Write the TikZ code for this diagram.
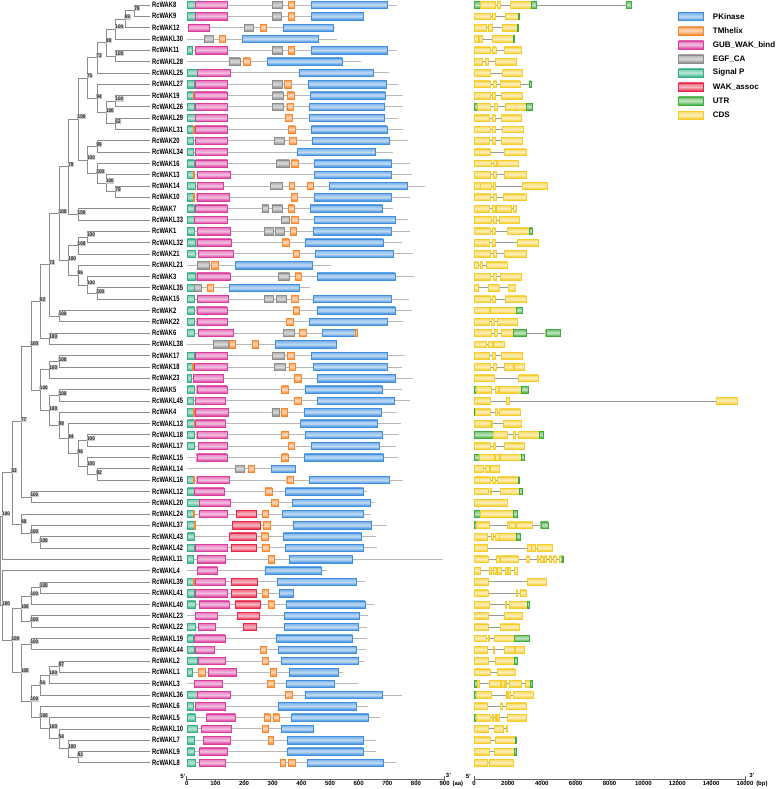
\documentclass[tikz,border=0pt]{standalone}
\usepackage{fontspec}
\setmainfont{Liberation Sans}
\newfontfamily\genefont[FakeStretch=0.74]{Liberation Sans}
\newfontfamily\bootfont[FakeStretch=0.85]{Liberation Sans}
\usetikzlibrary{calc, positioning}

\definecolor{pk}{RGB}{62,142,222}
\definecolor{tm}{RGB}{245,135,45}
\definecolor{gub}{RGB}{218,60,158}
\definecolor{egf}{RGB}{140,140,140}
\definecolor{sp}{RGB}{50,176,132}
\definecolor{wak}{RGB}{232,38,72}
\definecolor{utr}{RGB}{62,172,58}
\definecolor{cds}{RGB}{246,204,40}
\def\cdsflag{c}

% clade: name, depth, upper child, lower child, bootstrap
\newcommand{\clade}[5]{%
  \path let \p1=($(#3)!.5!(#4)$) in coordinate (#1) at ({(2.5+9.44*(#2-1))*1pt},\y1);
  \draw[branch] (#3) -- (#1 |- #3) -- (#1 |- #4) -- (#4);
  \node[boot, anchor=west] (#1t) at ([shift={(-1pt,2pt)}]#1) {#5};
}

\begin{document}
\begin{tikzpicture}[
    x=1pt, y=-1pt,
    branch/.style={draw=black!45, line width=0.6pt},
    boot/.style={fill=black!20, inner sep=0.5pt, text=black!85, font=\bootfont\bfseries\fontsize{5.4}{5.4}\selectfont},
    gene/.style={inner sep=0pt, font=\genefont\bfseries\fontsize{7.8}{7.8}\selectfont},
    backbone/.style={draw=black!28, line width=0.8pt},
    intron/.style={draw=black!40, line width=0.7pt},
    dom/.style={draw=#1, line width=0.45pt, top color=#1!70!white, bottom color=#1, middle color=#1!32!white},
    axisline/.style={draw=black!60, line width=0.6pt},
    ticklbl/.style={inner sep=0pt, font=\bfseries\fontsize{6}{6}\selectfont},
    legbox/.style={minimum width=25pt, minimum height=8pt, inner sep=0pt},
    legtext/.style={inner sep=0pt, font=\bfseries\fontsize{8}{8}\selectfont}
]
\useasboundingbox (0,0) rectangle (777,789);

% leaves and gene names
\foreach \r/\gname in {1/RcWAK8, 2/RcWAK9, 3/RcWAK12, 4/RcWAKL30, 5/RcWAK11, 6/RcWAKL28, 7/RcWAKL25,
    8/RcWAKL27, 9/RcWAK19, 10/RcWAKL26, 11/RcWAKL29, 12/RcWAKL31, 13/RcWAK20, 14/RcWAKL34,
    15/RcWAK16, 16/RcWAK13, 17/RcWAK14, 18/RcWAK10, 19/RcWAK7, 20/RcWAKL33, 21/RcWAK1,
    22/RcWAKL32, 23/RcWAK21, 24/RcWAKL21, 25/RcWAK3, 26/RcWAKL35, 27/RcWAK15, 28/RcWAK2,
    29/RcWAK22, 30/RcWAK6, 31/RcWAKL38, 32/RcWAK17, 33/RcWAK18, 34/RcWAK23, 35/RcWAK5,
    36/RcWAKL45, 37/RcWAK4, 38/RcWAKL13, 39/RcWAKL18, 40/RcWAKL17, 41/RcWAKL15, 42/RcWAKL14,
    43/RcWAKL16, 44/RcWAKL12, 45/RcWAKL20, 46/RcWAKL24, 47/RcWAKL37, 48/RcWAKL43, 49/RcWAKL42,
    50/RcWAKL11, 51/RcWAKL4, 52/RcWAKL39, 53/RcWAKL41, 54/RcWAKL40, 55/RcWAKL23, 56/RcWAKL22,
    57/RcWAKL19, 58/RcWAKL44, 59/RcWAKL2, 60/RcWAKL1, 61/RcWAKL3, 62/RcWAKL36, 63/RcWAKL6,
    64/RcWAKL5, 65/RcWAKL10, 66/RcWAKL7, 67/RcWAKL9, 68/RcWAKL8} {
  \pgfmathsetmacro{\yr}{5+(\r-1)*11.31}
  \coordinate (l\r) at (150,\yr);
  \node[gene, anchor=west] (g\r) at (152,\yr) {\gname};
}

% tree
\clade{n1}{15}{l1}{l2}{79}
\clade{n2}{14}{n1}{l3}{69}
\clade{n3}{13}{n2}{l4}{100}
\clade{n4}{13}{l5}{l6}{100}
\clade{n5}{12}{n3}{n4}{89}
\clade{n6}{11}{n5}{l7}{73}
\clade{n7}{13}{l9}{l10}{100}
\clade{n8}{13}{l11}{l12}{62}
\clade{n9}{12}{n7}{n8}{100}
\clade{n10}{11}{l8}{n9}{94}
\clade{n11}{10}{n6}{n10}{75}
\clade{n12}{11}{l13}{l14}{99}
\clade{n13}{13}{l17}{l18}{79}
\clade{n14}{12}{l16}{n13}{100}
\clade{n15}{11}{l15}{n14}{100}
\clade{n16}{10}{n12}{n15}{100}
\clade{n17}{9}{n11}{n16}{100}
\clade{n18}{9}{l19}{l20}{100}
\clade{n19}{8}{n17}{n18}{79}
\clade{n20}{10}{l21}{l22}{100}
\clade{n21}{9}{n20}{l23}{100}
\clade{n22}{11}{l26}{l27}{100}
\clade{n23}{10}{l25}{n22}{100}
\clade{n24}{9}{l24}{n23}{96}
\clade{n25}{8}{n21}{n24}{100}
\clade{n26}{7}{n19}{n25}{100}
\clade{n27}{7}{l28}{l29}{100}
\clade{n28}{6}{n26}{n27}{73}
\clade{n29}{6}{l30}{l31}{100}
\clade{n30}{5}{n28}{n29}{92}
\clade{n31}{7}{l32}{l33}{100}
\clade{n32}{6}{n31}{l34}{100}
\clade{n33}{7}{l35}{l36}{100}
\clade{n34}{10}{l39}{l40}{100}
\clade{n35}{11}{l42}{l43}{92}
\clade{n36}{10}{l41}{n35}{100}
\clade{n37}{9}{n34}{n36}{96}
\clade{n38}{8}{l38}{n37}{84}
\clade{n39}{7}{l37}{n38}{99}
\clade{n40}{6}{n33}{n39}{100}
\clade{n41}{5}{n32}{n40}{100}
\clade{n42}{4}{n30}{n41}{100}
\clade{n43}{4}{l44}{l45}{100}
\clade{n44}{3}{n42}{n43}{77}
\clade{n45}{5}{l48}{l49}{100}
\clade{n46}{4}{l47}{n45}{100}
\clade{n47}{3}{l46}{n46}{98}
\clade{n48}{2}{n44}{n47}{53}
\clade{n49}{1}{n48}{l50}{100}
\clade{n50}{5}{l52}{l53}{100}
\clade{n51}{4}{n50}{l54}{100}
\clade{n52}{4}{l55}{l56}{100}
\clade{n53}{3}{n51}{n52}{100}
\clade{n54}{4}{l57}{l58}{100}
\clade{n55}{7}{l59}{l60}{97}
\clade{n56}{6}{n55}{l61}{100}
\clade{n57}{5}{n56}{l62}{56}
\clade{n58}{9}{l67}{l68}{93}
\clade{n59}{8}{l66}{n58}{100}
\clade{n60}{7}{l65}{n59}{54}
\clade{n61}{6}{l64}{n60}{100}
\clade{n62}{5}{l63}{n61}{100}
\clade{n63}{4}{n57}{n62}{100}
\clade{n64}{3}{n54}{n63}{100}
\clade{n65}{2}{n53}{n64}{100}
\clade{n66}{1}{l51}{n65}{100}
\path let \p1=($(n49)!.5!(n66)$) in coordinate (root) at (0.8pt,\y1);
\draw[branch] (n49) -- (root |- n49) -- (root |- n66) -- (n66);

% protein domains (aa)
\begin{scope}[shift={(186.7,0)}, x=0.2866pt]
\foreach \r/\len/\doms in {
    1/733/{sp/2/29, gub/31/143, egf/300/335, tm/355/376, pk/436/698},
    2/620/{sp/2/29, gub/31/143, egf/300/331, tm/355/376, pk/436/616},
    3/517/{gub/6/79, egf/201/233, tm/256/279, pk/337/512},
    4/523/{egf/60/93, tm/114/136, pk/195/459},
    5/733/{sp/2/19, gub/31/140, egf/298/335, tm/355/376, pk/436/698},
    6/608/{egf/147/186, tm/198/221, pk/281/543},
    7/707/{sp/2/37, gub/37/151, pk/391/652},
    8/738/{sp/2/27, gub/29/140, egf/300/335, tm/342/365, pk/423/695},
    9/755/{sp/2/23, tm/23/27, gub/27/140, egf/300/337, tm/351/374, pk/431/693},
    10/756/{sp/2/27, gub/29/140, egf/298/337, tm/349/372, pk/428/690},
    11/738/{sp/2/31, gub/31/140, tm/344/368, pk/427/690},
    12/756/{sp/2/23, tm/23/27, gub/29/143, tm/355/378, pk/435/698},
    13/773/{sp/2/23, gub/31/143, egf/307/340, tm/358/381, pk/437/707},
    14/719/{sp/2/23, gub/31/143, pk/387/658},
    15/779/{sp/2/27, gub/31/143, egf/314/358, tm/365/388, pk/445/715},
    16/785/{sp/2/23, tm/23/27, gub/37/151, pk/445/715},
    17/831/{sp/2/29, gub/37/128, egf/293/335, tm/358/374, tm/419/440, pk/498/768},
    18/779/{sp/2/23, tm/23/27, gub/35/149, tm/365/386, pk/445/715},
    19/721/{sp/2/27, gub/29/143, egf/262/286, egf/297/333, tm/354/374, pk/431/683},
    20/773/{sp/2/27, gub/27/143, egf/331/358, tm/366/390, pk/445/729},
    21/779/{sp/2/27, gub/37/151, egf/272/302, egf/308/342, tm/361/381, pk/440/712},
    22/750/{sp/2/31, gub/35/154, tm/333/356, pk/413/685},
    23/790/{sp/2/31, gub/41/163, tm/371/393, pk/450/720},
    24/505/{egf/38/79, tm/87/109, pk/169/437},
    25/794/{sp/2/31, gub/35/151, egf/321/358, tm/377/400, pk/456/726},
    26/430/{sp/2/27, egf/27/49, tm/72/94, pk/150/393},
    27/776/{sp/2/27, gub/37/145, egf/272/302, egf/312/346, tm/365/388, pk/441/712},
    28/785/{sp/2/27, gub/35/140, tm/371/393, pk/454/726},
    29/755/{sp/2/27, gub/35/140, tm/348/371, pk/429/698},
    30/595/{sp/2/27, gub/41/163, egf/337/376, tm/394/416, pk/474/587, tm/587/595},
    31/520/{egf/91/145, tm/147/169, tm/227/249, pk/309/520},
    32/762/{sp/2/27, gub/31/142, egf/298/340, tm/350/374, pk/434/701},
    33/750/{sp/2/19, tm/19/23, gub/27/143, egf/307/345, tm/357/380, pk/441/698},
    34/790/{sp/2/17, gub/23/128, tm/374/398, pk/457/726},
    35/750/{sp/2/27, gub/35/140, tm/331/355, pk/413/683},
    36/779/{sp/2/23, gub/31/134, tm/374/398, pk/457/723},
    37/733/{sp/2/23, tm/23/27, gub/31/145, egf/297/322, tm/329/351, pk/409/680},
    38/748/{sp/2/27, tm/27/30, gub/31/136, pk/397/666},
    39/742/{sp/2/27, gub/35/140, tm/331/355, pk/414/683},
    40/729/{sp/2/27, gub/41/142, tm/354/376, pk/434/673},
    41/738/{gub/35/140, tm/331/355, pk/411/686},
    42/380/{egf/170/201, tm/213/236, pk/295/380},
    43/755/{sp/2/23, tm/23/27, gub/35/148, tm/349/372, pk/429/705},
    44/630/{sp/2/27, gub/27/130, tm/273/297, pk/345/617},
    45/653/{sp/2/44, gub/44/151, tm/295/319, pk/369/640},
    46/642/{sp/2/23, tm/23/27, gub/43/143, wak/174/241, tm/262/283, pk/333/617},
    47/698/{sp/2/27, tm/27/30, wak/159/255, tm/267/291, pk/372/643},
    48/661/{sp/2/27, wak/150/242, tm/259/283, pk/337/610},
    49/665/{sp/2/27, gub/31/140, wak/157/244, tm/262/287, pk/344/616},
    50/895/{sp/2/23, gub/37/136, tm/284/306, pk/358/579},
    51/488/{gub/37/108, pk/273/471},
    52/622/{sp/2/23, tm/23/27, gub/31/136, wak/157/247, pk/316/590},
    53/372/{sp/2/27, gub/31/140, wak/157/244, tm/265/285, pk/324/372},
    54/655/{sp/2/31, gub/43/148, wak/170/258, tm/283/306, pk/348/622},
    55/634/{gub/30/107, wak/178/252, pk/342/602},
    56/628/{sp/2/31, gub/40/101, wak/198/244, pk/340/597},
    57/628/{sp/2/23, gub/27/133, pk/311/579},
    58/627/{sp/2/27, gub/29/95, tm/258/279, pk/320/591},
    59/620/{sp/2/35, gub/41/136, tm/264/286, pk/331/599},
    60/547/{sp/2/19, tm/41/64, gub/76/174, tm/293/314, pk/358/529},
    61/599/{gub/26/124, tm/281/305, pk/348/514},
    62/750/{sp/2/35, gub/35/151, tm/345/369, pk/412/683},
    63/634/{sp/2/23, gub/29/134, pk/320/590},
    64/674/{sp/2/29, gub/69/169, tm/270/291, tm/301/322, pk/366/635},
    65/440/{sp/2/35, gub/52/157, tm/264/285, pk/331/442},
    66/660/{sp/2/27, gub/58/151, tm/283/302, pk/352/616},
    67/660/{sp/2/27, gub/44/142, pk/352/616},
    68/729/{sp/2/29, gub/44/136, tm/327/345, tm/355/378, pk/421/686}} {
  \pgfmathsetmacro{\yr}{5+(\r-1)*11.31}
  \draw[backbone] (0,\yr) -- (\len,\yr);
  \foreach \t/\a/\b in \doms {
    \draw[dom=\t] (\a,\yr-3.6) rectangle (\b,\yr+3.6);
  }
}
\draw[axisline] (0,775.5) -- (0,779) -- (900,779) -- (900,775.5);
\foreach \v in {0,100,...,900} {
  \draw[axisline] (\v,779) -- (\v,781);
  \node[ticklbl, anchor=north] (pa\v) at (\v,781.5) {\v};
}
\node[ticklbl, right=2.5pt of pa900] (paunit) {(aa)};
\node[ticklbl, anchor=east] (pa5) at (-4,776) {5'};
\node[ticklbl, anchor=west] (pa3) at (904,775) {3'};
\end{scope}

% gene structures (bp)
\begin{scope}[shift={(474,0)}, x=0.016938pt]
\foreach \r/\len/\exs in {
    1/9260/{u/0/355, c/355/1240, c/1380/1575, c/2130/3370, u/3370/3665, u/8985/9260},
    2/2680/{c/0/945, c/1085/1280, c/1830/2620, u/2620/2680},
    3/2620/{c/0/710, c/850/1100, c/1675/2560, u/2560/2620},
    4/2400/{c/0/255, c/315/510, c/1100/2320, u/2320/2400},
    5/2815/{c/0/945, c/1085/1300, c/1775/2815},
    6/2520/{c/0/490, c/650/850, c/1280/2520},
    7/2855/{c/0/985, c/1655/2855},
    8/3350/{c/0/945, c/1140/1340, c/1535/2720, u/3270/3350},
    9/2855/{c/0/945, c/1085/1280, c/1635/2855},
    10/3410/{u/0/200, c/200/985, c/1180/1380, c/1830/3075, u/3075/3410},
    11/2815/{c/0/905, c/1085/1280, c/1595/2815},
    12/2915/{c/0/945, c/1085/1280, c/1675/2915},
    13/2875/{c/0/905, c/1085/1280, c/1635/2875},
    14/3055/{c/0/985, c/1795/3055},
    15/2620/{c/0/1045, c/1140/1340, c/1380/2620},
    16/3055/{c/0/985, c/1140/1340, c/1775/3055},
    17/4335/{c/0/355, c/355/1045, c/1140/1280, c/2855/4335},
    18/3055/{c/0/985, c/1140/1340, c/1735/3055},
    19/2520/{c/0/905, c/1085/1280, c/1340/2225, c/2325/2520},
    20/2680/{c/0/1045, c/1140/1300, c/1495/2680},
    21/3450/{c/0/985, c/1100/1240, c/1970/3270, u/3270/3450},
    22/3800/{c/0/905, c/1085/1240, c/2560/3800},
    23/3055/{c/0/985, c/1140/1300, c/1775/3055},
    24/1970/{c/0/220, c/355/510, c/710/1970},
    25/2760/{c/0/985, c/1140/1340, c/1535/2760},
    26/2460/{c/0/255, c/830/1480, c/2030/2460},
    27/3055/{c/0/985, c/1100/1240, c/1830/3055},
    28/2855/{c/0/905, c/985/2520, u/2520/2855},
    29/2560/{c/0/905, c/1045/1200, c/1380/2560},
    30/5080/{c/0/1045, c/1200/1380, c/1635/2325, u/2325/3055, u/4235/5080},
    31/1775/{c/0/750, c/850/1100, c/1140/1775},
    32/2875/{c/0/905, c/1085/1280, c/1635/2875},
    33/2975/{c/0/945, c/1140/1300, c/1775/2325, c/2365/2975},
    34/3800/{c/0/1180, c/2620/3800},
    35/3210/{u/0/160, c/160/1045, c/1240/1435, c/1495/2760, u/2760/3210},
    36/15520/{c/0/985, c/1880/2070, c/14300/15520},
    37/2720/{u/0/100, c/100/985, c/1240/1400, c/1495/2720},
    38/2760/{c/0/945, c/1000/1080, c/1735/2760},
    39/4100/{u/0/1140, c/1140/1990, c/2325/2460, c/2620/3860, u/3860/4100},
    40/2975/{c/0/985, c/1140/1280, c/1795/2975},
    41/2975/{u/0/315, c/315/1180, c/1280/1480, c/1535/2760, u/2760/2975},
    42/1480/{c/0/550, c/650/905, c/985/1480},
    43/2680/{c/0/945, c/1100/1240, c/1380/2620, u/2620/2680},
    44/2875/{c/0/850, c/950/1000, c/1535/2660, u/2660/2875},
    45/1990/{c/0/1990},
    46/2580/{u/0/355, c/355/2325, u/2325/2580},
    47/4355/{u/0/120, c/120/905, c/1970/2070, c/2090/2425, c/2480/3450, u/3940/4355},
    48/2720/{c/0/790, c/990/1140, c/1240/1480, c/1495/2480, u/2480/2720},
    49/4630/{c/0/790, c/3170/3310, c/3350/3605, c/3705/4630},
    50/5240/{c/0/810, c/1340/1495, c/1575/2620, c/3110/3250, c/3705/3820, c/3920/4060, c/4160/4290, c/4430/4570, c/4690/4830, c/5045/5180, u/5180/5240},
    51/2560/{c/0/355, c/910/1010, c/1140/1340, c/1400/1635, c/1830/1970, c/2030/2130, c/2365/2560},
    52/4235/{c/0/810, c/3170/4235},
    53/3055/{c/0/810, c/2520/2580, c/2715/3055},
    54/3250/{c/0/890, c/1830/1930, c/2070/3170, u/3170/3250},
    55/2875/{c/0/810, c/1775/2875},
    56/2680/{c/0/810, c/1575/2680},
    57/3250/{c/0/710, c/850/905, c/1200/2365, u/2365/3250},
    58/2975/{c/0/790, c/1140/1200, c/1775/2385, c/2425/2975},
    59/2580/{c/0/850, c/1280/2365, u/2365/2580},
    60/2460/{c/0/945, c/1380/2460},
    61/3450/{u/0/200, c/200/300, c/890/1575, c/1635/1775, c/1830/1930, c/2090/2815, c/3010/3310, u/3310/3450},
    62/3505/{u/0/120, c/120/1045, c/1880/1990, c/2030/2130, c/2325/3505},
    63/3075/{c/0/790, c/1575/1675, c/1930/3075},
    64/3075/{u/0/160, c/160/985, c/1085/1140, c/1280/1340, c/1380/1480, c/1970/3075},
    65/1990/{c/0/810, c/1200/1735, c/1930/1990},
    66/2480/{c/0/945, c/1240/2425, u/2425/2480},
    67/2480/{c/0/905, c/1200/2385, u/2385/2480},
    68/2325/{c/0/790, c/890/2325}} {
  \pgfmathsetmacro{\yr}{5+(\r-1)*11.31}
  \draw[intron] (0,\yr) -- (\len,\yr);
  \foreach \t/\a/\b in \exs {
    \ifx\t\cdsflag \def\col{cds}\else \def\col{utr}\fi
    \draw[dom=\col] (\a,\yr-3.3) rectangle (\b,\yr+3.3);
  }
}
\draw[axisline] (0,775.5) -- (0,779) -- (16000,779) -- (16000,775.5);
\foreach \k in {0,...,8} {
  \pgfmathtruncatemacro{\v}{2000*\k}
  \draw[axisline] (\v,779) -- (\v,781);
  \node[ticklbl, anchor=north] (ga\k) at (\v,781.5) {\v};
}
\node[ticklbl, right=2.5pt of ga8] (gaunit) {(bp)};
\node[ticklbl, anchor=east] (ga5) at (-180,776) {5'};
\node[ticklbl, anchor=west] (ga3) at (16240,775) {3'};
\end{scope}

% legend
\foreach \i/\c/\txt in {0/pk/PKinase, 1/tm/TMhelix, 2/gub/GUB\_WAK\_bind, 3/egf/EGF\_CA,
    4/sp/Signal P, 5/wak/WAK\_assoc, 6/utr/UTR, 7/cds/CDS} {
  \node[legbox, dom=\c] (k\i) at (691,{16.7+\i*14.05}) {};
  \node[legtext, right=9pt of k\i] (kt\i) {\txt};
}
\end{tikzpicture}
\end{document}
